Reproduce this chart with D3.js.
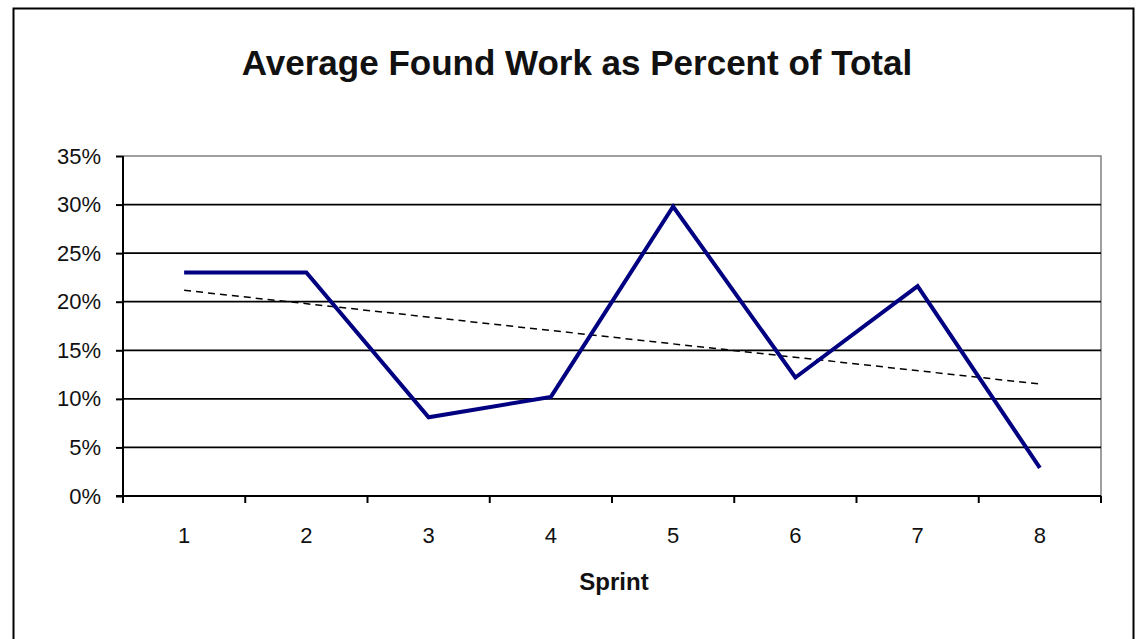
<!DOCTYPE html>
<html>
<head>
<meta charset="utf-8">
<script src="https://cdn.jsdelivr.net/npm/d3@7"></script>
<style>
  html, body { margin: 0; padding: 0; background: #ffffff; }
  svg { display: block; }
  text { font-family: "Liberation Sans", Arial, sans-serif; }
</style>
</head>
<body>
<svg id="chart" width="1138" height="639"></svg>
<script>
// Sprint numbers and average found work (share of total work)
const sprints = [1, 2, 3, 4, 5, 6, 7, 8];
const foundWork = [0.230, 0.230, 0.081, 0.102, 0.298, 0.122, 0.216, 0.029];
const yTicks = [0, 0.05, 0.10, 0.15, 0.20, 0.25, 0.30, 0.35];
const titleText = "Average Found Work as Percent of Total";
const xTitle = "Sprint";

const svg = d3.select("#chart");
const W = 1138, H = 639;
const plot = { left: 123, top: 156, right: 1101, bottom: 496 };

svg.append("rect").attr("x", 0).attr("y", 0).attr("width", W).attr("height", H).attr("fill", "#fff");

// Chart frame
svg.append("rect")
  .attr("x", 13.5).attr("y", 8.5)
  .attr("width", 1120).attr("height", 660)
  .attr("fill", "none").attr("stroke", "#000").attr("stroke-width", 2);

// Scales
const x = d3.scaleBand().domain(sprints).range([plot.left, plot.right]).padding(0);
const y = d3.scaleLinear().domain([0, 0.35]).range([plot.bottom, plot.top]);

// Plot area border (grey, top and right)
svg.append("path")
  .attr("d", `M${plot.left},${plot.top}H${plot.right}V${plot.bottom}`)
  .attr("fill", "none").attr("stroke", "#808080").attr("stroke-width", 1.5);

// Horizontal gridlines
svg.append("g").selectAll("line")
  .data(yTicks.filter(t => t > 0 && t < 0.35))
  .join("line")
  .attr("x1", plot.left).attr("x2", plot.right)
  .attr("y1", d => y(d)).attr("y2", d => y(d))
  .attr("stroke", "#000").attr("stroke-width", 1.8);

// Y axis
const yAxis = d3.axisLeft(y).tickValues(yTicks).tickFormat(d3.format(".0%")).tickSize(7).tickPadding(15);
const gy = svg.append("g").attr("transform", `translate(${plot.left},0)`).call(yAxis);
gy.select(".domain").attr("stroke", "#000").attr("stroke-width", 2).attr("d", `M0,${plot.top}V${plot.bottom + 6}`);
gy.selectAll(".tick line").attr("stroke", "#000").attr("stroke-width", 2);
gy.selectAll(".tick text")
  .attr("font-size", 22).attr("fill", "#111")
  .attr("font-family", "'Liberation Sans', Arial, sans-serif");

// X axis: ticks between categories, labels centred on each sprint
const xEdge = d3.scaleLinear().domain([0, sprints.length]).range([plot.left, plot.right]);
const gx = svg.append("g");
gx.append("line")
  .attr("x1", plot.left - 7).attr("x2", plot.right)
  .attr("y1", plot.bottom).attr("y2", plot.bottom)
  .attr("stroke", "#000").attr("stroke-width", 2);
gx.selectAll(".xt")
  .data(d3.range(sprints.length + 1))
  .join("line").attr("class", "xt")
  .attr("x1", d => xEdge(d)).attr("x2", d => xEdge(d))
  .attr("y1", plot.bottom).attr("y2", plot.bottom + 7)
  .attr("stroke", "#000").attr("stroke-width", 2);
gx.selectAll(".xl")
  .data(sprints)
  .join("text").attr("class", "xl")
  .attr("x", d => x(d) + x.bandwidth() / 2)
  .attr("y", 543)
  .attr("text-anchor", "middle")
  .attr("font-size", 22).attr("fill", "#111")
  .text(d => d);

// Linear trendline (least squares over the series)
const n = sprints.length;
const mx = d3.mean(sprints), my = d3.mean(foundWork);
const slope = d3.sum(sprints, (s, i) => (s - mx) * (foundWork[i] - my)) / d3.sum(sprints, s => (s - mx) ** 2);
const intercept = my - slope * mx;
const trend = [sprints[0], sprints[n - 1]].map(s => [s, intercept + slope * s]);
const cx = s => x(s) + x.bandwidth() / 2;

svg.append("path")
  .datum(trend)
  .attr("d", d3.line().x(d => cx(d[0])).y(d => y(d[1])))
  .attr("fill", "none").attr("stroke", "#000").attr("stroke-width", 1.5)
  .attr("stroke-dasharray", "7,5");

// Data series
svg.append("path")
  .datum(sprints.map((s, i) => [s, foundWork[i]]))
  .attr("d", d3.line().x(d => cx(d[0])).y(d => y(d[1])))
  .attr("fill", "none").attr("stroke", "#000080").attr("stroke-width", 4)
  .attr("stroke-linejoin", "miter");

// Titles
svg.append("text")
  .attr("x", 577).attr("y", 75)
  .attr("text-anchor", "middle")
  .attr("font-size", 35).attr("font-weight", "bold").attr("fill", "#111")
  .text(titleText);

svg.append("text")
  .attr("x", 614).attr("y", 590)
  .attr("text-anchor", "middle")
  .attr("font-size", 24).attr("font-weight", "bold").attr("fill", "#111")
  .text(xTitle);
</script>
</body>
</html>
